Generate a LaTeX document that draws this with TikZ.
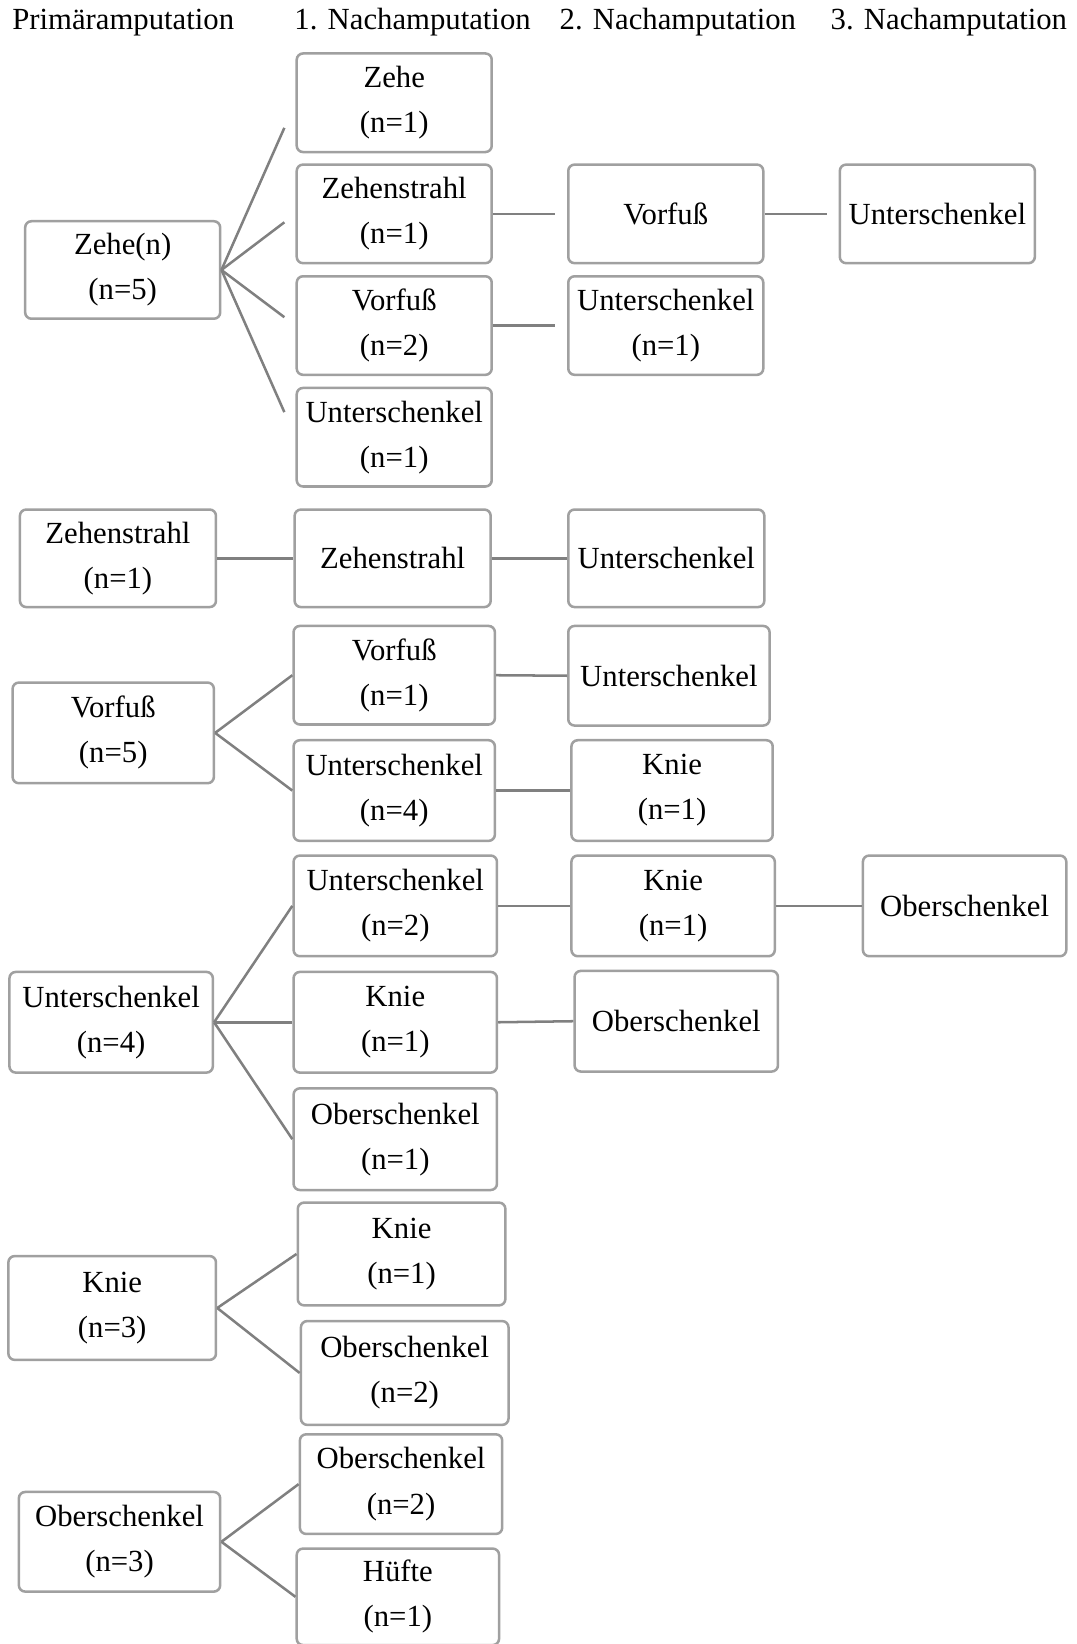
\documentclass[tikz,border=0pt]{standalone}
\usepackage{fontspec}
\setmainfont{Liberation Serif}
\usetikzlibrary{calc}
\definecolor{boxgray}{RGB}{160,160,160}
\definecolor{linegray}{RGB}{128,128,128}
\tikzset{
  box/.style={draw=boxgray, line width=2.4pt, rounded corners=6pt, inner sep=0pt,
    align=center, font=\fontsize{29.3}{43}\selectfont, text=black, fill=white},
  conn/.style={draw=linegray, line width=2.4pt},
  head/.style={anchor=base, inner sep=0pt, font=\fontsize{29.3}{43}\selectfont}
}
\begin{document}
\begin{tikzpicture}[x=1pt,y=-1pt]
\useasboundingbox[fill=white] (0,0) rectangle (1027,1568);
% headers
\node[head] (h1) at (117.5,28.5) {Primäramputation};
\node[head] (h2) at (393.5,28.5) {1. Nachamputation};
\node[head] (h3) at (646.5,28.5) {2. Nachamputation};
\node[head] (h4) at (905,28.5) {3. Nachamputation};

% group 1
\node[box, minimum width=186, minimum height=93] (z1) at (117,257.5) {Zehe(n)\\(n=5)};
\node[box, minimum width=186, minimum height=94] (z1a) at (376,98) {Zehe\\(n=1)};
\node[box, minimum width=186, minimum height=94] (z1b) at (376,204) {Zehenstrahl\\(n=1)};
\node[box, minimum width=186, minimum height=94] (z1c) at (376,310.5) {Vorfuß\\(n=2)};
\node[box, minimum width=186, minimum height=94] (z1d) at (376,417) {Unterschenkel\\(n=1)};
\node[box, minimum width=186, minimum height=94] (z1e) at (635,204) {Vorfuß};
\node[box, minimum width=186, minimum height=94] (z1f) at (635,310.5) {Unterschenkel\\(n=1)};
\node[box, minimum width=186, minimum height=94] (z1g) at (894,204) {Unterschenkel};
\foreach \c in {z1a,z1b,z1c,z1d}
  \draw[conn] (z1.east) -- ($(z1.east)!0.85!(\c.west)$);
\draw[conn] (z1b.east) -- ($(z1b.east)!0.84!(z1e.west)$);
\draw[conn] (z1c.east) -- ($(z1c.east)!0.84!(z1f.west)$);
\draw[conn] (z1e.east) -- ($(z1e.east)!0.85!(z1g.west)$);

% group 2
\node[box, minimum width=187, minimum height=93] (s1) at (112.5,532.5) {Zehenstrahl\\(n=1)};
\node[box, minimum width=187, minimum height=93] (s1a) at (374.5,532.5) {Zehenstrahl};
\node[box, minimum width=187, minimum height=93] (s1b) at (635.5,532.5) {Unterschenkel};
\draw[conn] (s1.east) -- (s1a.west);
\draw[conn] (s1a.east) -- (s1b.west);

% group 3
\node[box, minimum width=192, minimum height=96] (v1) at (108,699) {Vorfuß\\(n=5)};
\node[box, minimum width=192, minimum height=94] (v1a) at (376,644) {Vorfuß\\(n=1)};
\node[box, minimum width=192, minimum height=96] (v1b) at (376,754) {Unterschenkel\\(n=4)};
\node[box, minimum width=192, minimum height=95] (v1c) at (638,644.5) {Unterschenkel};
\node[box, minimum width=192, minimum height=96] (v1d) at (641,754) {Knie\\(n=1)};
\draw[conn] (v1.east) -- (v1a.west);
\draw[conn] (v1.east) -- (v1b.west);
\draw[conn] (v1a.east) -- (v1c.west);
\draw[conn] (v1b.east) -- (v1d.west);

% group 4
\node[box, minimum width=194, minimum height=96] (u1) at (106,975) {Unterschenkel\\(n=4)};
\node[box, minimum width=194, minimum height=96] (u1a) at (377,864) {Unterschenkel\\(n=2)};
\node[box, minimum width=194, minimum height=96] (u1b) at (377,975) {Knie\\(n=1)};
\node[box, minimum width=194, minimum height=97] (u1c) at (377,1086.5) {Oberschenkel\\(n=1)};
\node[box, minimum width=194, minimum height=96] (u1d) at (642,864) {Knie\\(n=1)};
\node[box, minimum width=194, minimum height=96] (u1e) at (645,974) {Oberschenkel};
\node[box, minimum width=194, minimum height=96] (u1f) at (920,864) {Oberschenkel};
\draw[conn] (u1.east) -- (u1a.west);
\draw[conn] (u1.east) -- (u1b.west);
\draw[conn] (u1.east) -- (u1c.west);
\draw[conn] (u1a.east) -- (u1d.west);
\draw[conn] (u1d.east) -- (u1f.west);
\draw[conn] (u1b.east) -- (u1e.west);

% group 5
\node[box, minimum width=198, minimum height=99] (k1) at (107,1247.5) {Knie\\(n=3)};
\node[box, minimum width=198, minimum height=98] (k1a) at (383,1196) {Knie\\(n=1)};
\node[box, minimum width=198, minimum height=99] (k1b) at (386,1309.5) {Oberschenkel\\(n=2)};
\draw[conn] (k1.east) -- (k1a.west);
\draw[conn] (k1.east) -- (k1b.west);

% group 6
\node[box, minimum width=192, minimum height=95] (o1) at (114,1470.5) {Oberschenkel\\(n=3)};
\node[box, minimum width=193, minimum height=95] (o1a) at (382.5,1415.5) {Oberschenkel\\(n=2)};
\node[box, minimum width=193, minimum height=92] (o1b) at (379.5,1523) {Hüfte\\(n=1)};
\draw[conn] (o1.east) -- (o1a.west);
\draw[conn] (o1.east) -- (o1b.west);
\end{tikzpicture}
\end{document}
